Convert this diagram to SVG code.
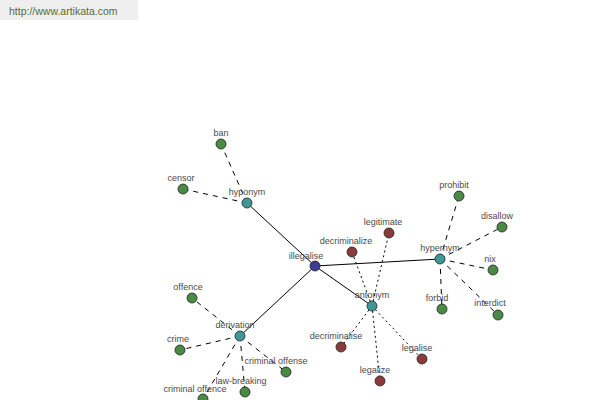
<svg xmlns="http://www.w3.org/2000/svg" width="600" height="400" viewBox="0 0 600 400">
<style>
.n{stroke:#222;stroke-width:0.8}
.g{fill:#4a8a44}.t{fill:#3f9898}.b{fill:#3c3c98}.r{fill:#8a3a3a}
text{font-family:"Liberation Sans",Arial,sans-serif;font-size:9px;fill:#4a4a4a;text-anchor:middle}
.s{stroke:#000;stroke-width:1;fill:none}
.d{stroke:#000;stroke-width:1;stroke-dasharray:5,5;fill:none}
.o{stroke:#000;stroke-width:1;stroke-dasharray:2,3;fill:none}
</style>
<rect x="0" y="0" width="138" height="20" fill="#efefef"/>
<text x="9" y="15" style="font-size:10.5px;fill:#5a6a30;text-anchor:start">http://www.artikata.com</text>
<g id="connectors">
<line class="s" x1="315" y1="266" x2="247" y2="203"/>
<line class="s" x1="315" y1="266" x2="440" y2="259"/>
<line class="s" x1="315" y1="266" x2="372" y2="306"/>
<line class="s" x1="315" y1="266" x2="240" y2="336"/>
<line class="d" x1="247" y1="203" x2="221" y2="144"/>
<line class="d" x1="247" y1="203" x2="183" y2="189"/>
<line class="d" x1="440" y1="259" x2="459" y2="196"/>
<line class="d" x1="440" y1="259" x2="502" y2="227"/>
<line class="d" x1="440" y1="259" x2="493" y2="270"/>
<line class="d" x1="440" y1="259" x2="498" y2="315"/>
<line class="d" x1="440" y1="259" x2="442" y2="309"/>
<line class="d" x1="240" y1="336" x2="192" y2="298"/>
<line class="d" x1="240" y1="336" x2="180" y2="350"/>
<line class="d" x1="240" y1="336" x2="286" y2="372"/>
<line class="d" x1="240" y1="336" x2="245" y2="392"/>
<line class="d" x1="240" y1="336" x2="203" y2="399"/>
<line class="o" x1="372" y1="306" x2="352" y2="252"/>
<line class="o" x1="372" y1="306" x2="389" y2="233"/>
<line class="o" x1="372" y1="306" x2="341" y2="347"/>
<line class="o" x1="372" y1="306" x2="422" y2="359"/>
<line class="o" x1="372" y1="306" x2="380" y2="381"/>
</g>
<g id="illegalise"><circle class="n b" cx="315" cy="266" r="5"/><text x="306" y="259">illegalise</text></g>
<g id="hyponym"><circle class="n t" cx="247" cy="203" r="5"/><text x="247" y="195">hyponym</text></g>
<g id="hypernym"><circle class="n t" cx="440" cy="259" r="5"/><text x="440" y="251">hypernym</text></g>
<g id="antonym"><circle class="n t" cx="372" cy="306" r="5"/><text x="372" y="298">antonym</text></g>
<g id="derivation"><circle class="n t" cx="240" cy="336" r="5"/><text x="235" y="328">derivation</text></g>
<g id="ban"><circle class="n g" cx="221" cy="144" r="5"/><text x="221" y="136">ban</text></g>
<g id="censor"><circle class="n g" cx="183" cy="189" r="5"/><text x="181" y="181">censor</text></g>
<g id="prohibit"><circle class="n g" cx="459" cy="196" r="5"/><text x="454" y="188">prohibit</text></g>
<g id="disallow"><circle class="n g" cx="502" cy="227" r="5"/><text x="497" y="219">disallow</text></g>
<g id="nix"><circle class="n g" cx="493" cy="270" r="5"/><text x="490" y="262">nix</text></g>
<g id="interdict"><circle class="n g" cx="498" cy="315" r="5"/><text x="490" y="306">interdict</text></g>
<g id="forbid"><circle class="n g" cx="442" cy="309" r="5"/><text x="437" y="301">forbid</text></g>
<g id="decriminalize"><circle class="n r" cx="352" cy="252" r="5"/><text x="346" y="244">decriminalize</text></g>
<g id="legitimate"><circle class="n r" cx="389" cy="233" r="5"/><text x="383" y="225">legitimate</text></g>
<g id="decriminalise"><circle class="n r" cx="341" cy="347" r="5"/><text x="336" y="339">decriminalise</text></g>
<g id="legalise"><circle class="n r" cx="422" cy="359" r="5"/><text x="417" y="351">legalise</text></g>
<g id="legalize"><circle class="n r" cx="380" cy="381" r="5"/><text x="375" y="373">legalize</text></g>
<g id="offence"><circle class="n g" cx="192" cy="298" r="5"/><text x="188" y="290">offence</text></g>
<g id="crime"><circle class="n g" cx="180" cy="350" r="5"/><text x="178" y="342">crime</text></g>
<g id="criminal-offense"><circle class="n g" cx="286" cy="372" r="5"/><text x="276" y="364">criminal offense</text></g>
<g id="law-breaking"><circle class="n g" cx="245" cy="392" r="5"/><text x="241" y="384">law-breaking</text></g>
<g id="criminal-offence"><circle class="n g" cx="203" cy="399" r="5"/><text x="195" y="392">criminal offence</text></g>
</svg>
